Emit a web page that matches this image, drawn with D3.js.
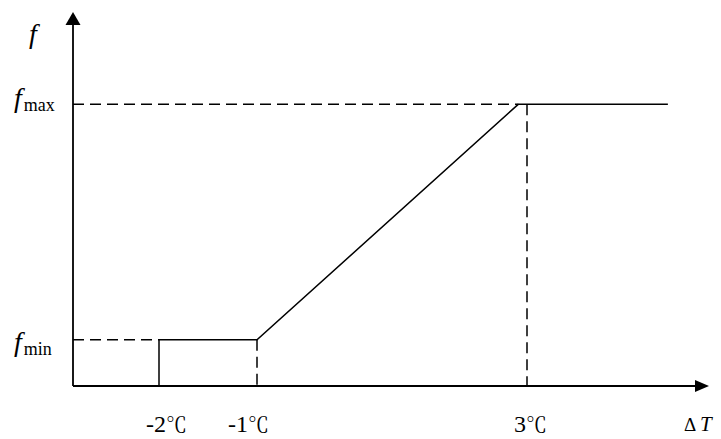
<!DOCTYPE html>
<html>
<head>
<meta charset="utf-8">
<script src="https://cdnjs.cloudflare.com/ajax/libs/d3/7.8.5/d3.min.js"></script>
<style>
    html, body { margin: 0; padding: 0; background: white; }
    svg { display: block; }
    text { font-family: "Liberation Serif", "Times New Roman", serif; fill: black; }
</style>
</head>
<body>
<svg id="view" width="721" height="439"></svg>

<script>
    // schematic values (units are arbitrary)
    const fMin = 1;
    const fMax = 6.1;
    const fTop = 8.1;               // end of the f axis
    const dTStart = -2.88;          // where the ΔT axis starts
    const dTEnd = 5.7;              // where the ΔT axis ends
    const tickValues = [-2, -1, 3];
    const tickLabels = ['-2', '-1', '3'];
    const unit = '℃';

    // control curve: vertical at -2, flat at fmin, ramp, flat at fmax
    const curveDT = [-2, -2, -1, 2.87, 5.09];
    const curveF  = [0, fMin, fMin, fMax, fMax];

    // dashed guide lines [x1, f1, x2, f2]
    const guides = [
        [dTStart, fMin, -2, fMin],
        [dTStart, fMax, 2.87, fMax],
        [-1, fMin, -1, 0],
        [3, fMax, 3, 0]
    ];

    const svg = d3.select('#view');

    // the drawing is not to scale, so the x scale is piecewise
    const x = d3.scaleLinear()
        .domain([dTStart, -2, -1, 3, dTEnd])
        .range([73, 159, 257, 527, 709]);
    const y = d3.scaleLinear()
        .domain([0, fTop])
        .range([386, 12]);

    const line = d3.line()
        .x(d => x(d[0]))
        .y(d => y(d[1]));

    // guides
    svg.append('g').selectAll('line')
        .data(guides)
        .join('line')
        .attr('x1', d => x(d[0])).attr('y1', d => y(d[1]))
        .attr('x2', d => x(d[2])).attr('y2', d => y(d[3]))
        .attr('stroke', 'black')
        .attr('stroke-width', 1.5)
        .attr('stroke-dasharray', '11,6');

    // curve
    svg.append('path')
        .attr('d', line(d3.zip(curveDT, curveF)))
        .attr('fill', 'none')
        .attr('stroke', 'black')
        .attr('stroke-width', 1.5);

    // axes with arrow heads
    const x0 = x(dTStart), y0 = y(0);
    svg.append('line')
        .attr('x1', x0).attr('y1', y0)
        .attr('x2', x(dTEnd) - 12).attr('y2', y0)
        .attr('stroke', 'black').attr('stroke-width', 1.8);
    svg.append('line')
        .attr('x1', x0).attr('y1', y0)
        .attr('x2', x0).attr('y2', y(fTop) + 12)
        .attr('stroke', 'black').attr('stroke-width', 1.8);
    svg.append('path')
        .attr('d', `M${x(dTEnd)},${y0}L${x(dTEnd) - 14},${y0 - 6}L${x(dTEnd) - 14},${y0 + 6}Z`)
        .attr('fill', 'black');
    svg.append('path')
        .attr('d', `M${x0},${y(fTop)}L${x0 - 7.5},${y(fTop) + 13}L${x0 + 7.5},${y(fTop) + 13}Z`)
        .attr('fill', 'black');

    // tick labels (number in Liberation Serif, unit sign from a CJK serif)
    const labelShift = [7, -9, 3];
    const xAxis = svg.append('g')
        .attr('transform', `translate(0,${y0})`)
        .call(d3.axisBottom(x)
            .tickValues(tickValues)
            .tickFormat((d, i) => tickLabels[i])
            .tickSize(0)
            .tickPadding(29));
    xAxis.select('.domain').remove();
    xAxis.selectAll('text')
        .attr('dx', (d, i) => labelShift[i])
        .style('font-family', '"Liberation Serif", serif')
        .style('font-size', '24px')
        .append('tspan')
        .style('font-family', '"Noto Serif CJK SC", "Noto Sans CJK SC", serif')
        .style('font-size', '21px')
        .text(unit);

    // ΔT label
    const dt = svg.append('text')
        .attr('x', 684).attr('y', 431)
        .style('font-size', '21px');
    dt.append('tspan').style('font-size', '19px').text('Δ ');
    dt.append('tspan').style('font-style', 'italic').text('T');

    // f labels
    svg.append('text')
        .attr('x', 29).attr('y', 43)
        .style('font-size', '28px')
        .style('font-style', 'italic')
        .text('f');

    function fLabel(val, sub, dy) {
        const t = svg.append('text')
            .attr('x', 14).attr('y', y(val) + dy);
        t.append('tspan').style('font-size', '28px').style('font-style', 'italic').text('f');
        t.append('tspan').attr('dx', 2).attr('dy', 4).style('font-size', '18px').text(sub);
    }
    fLabel(fMax, 'max', 3);
    fLabel(fMin, 'min', 11);
</script>
</body>
</html>
